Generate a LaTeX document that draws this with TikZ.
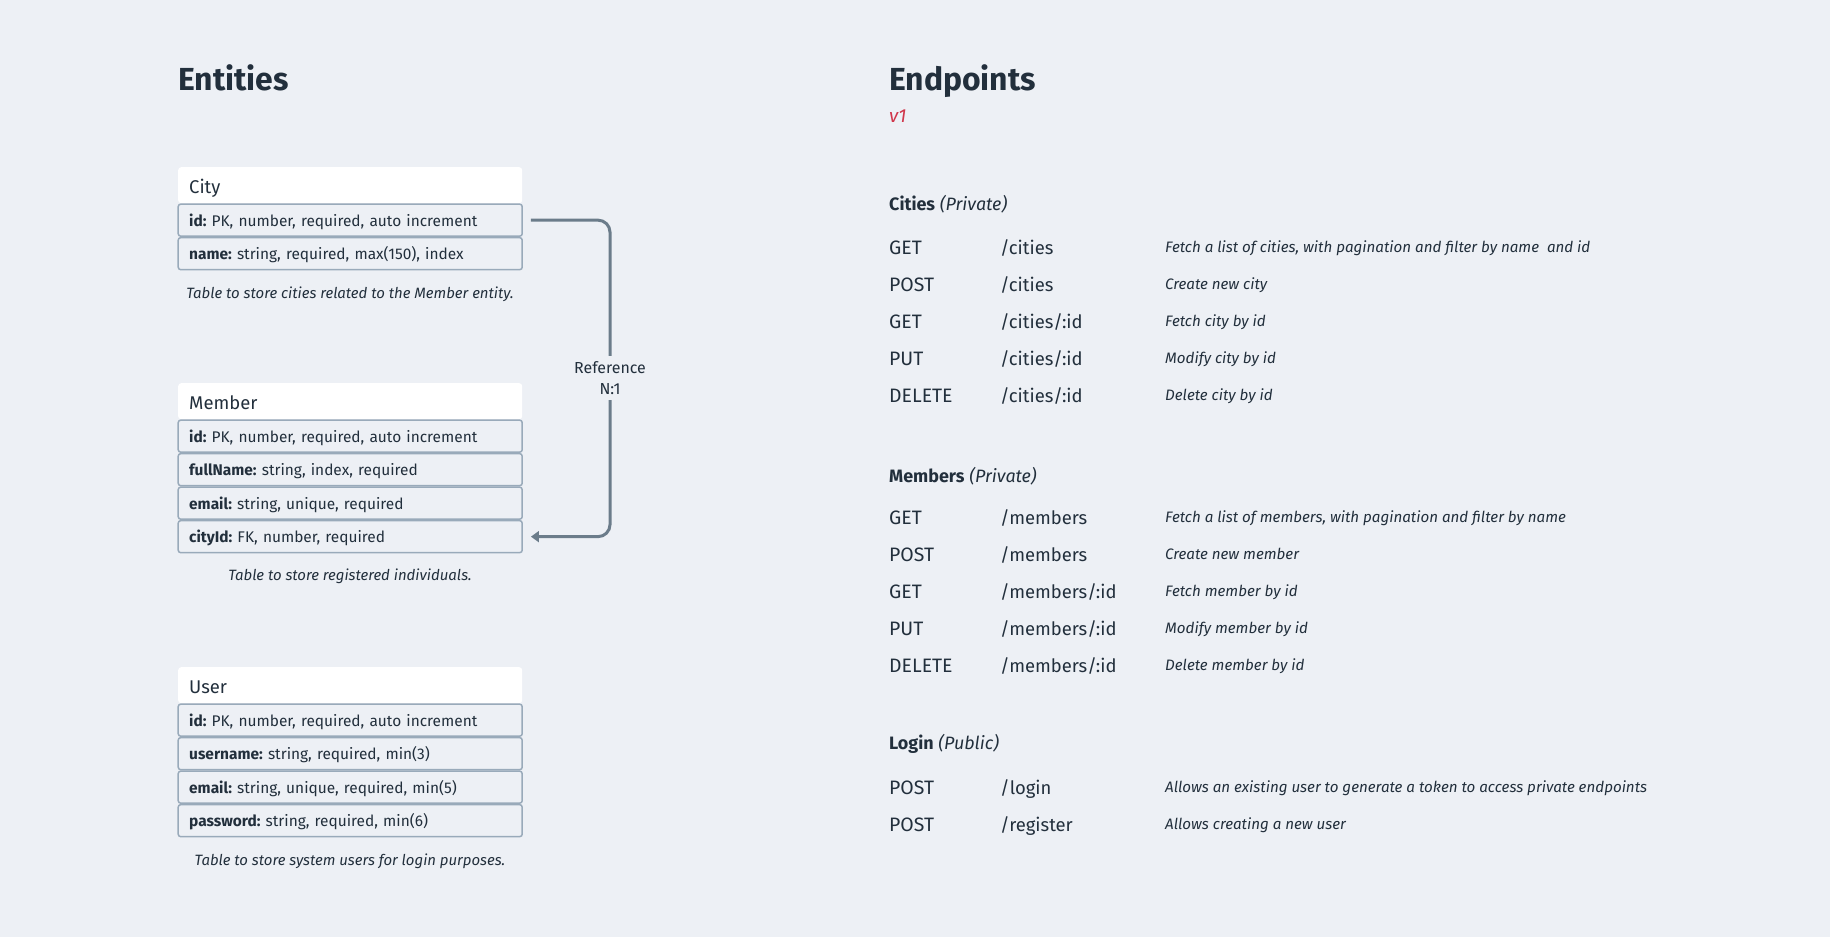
\documentclass[tikz,border=0pt]{standalone}
\usepackage{fontspec}
\setmainfont{Fira Sans}
\usetikzlibrary{positioning,arrows.meta}

\definecolor{bgcol}{HTML}{EDF0F5}
\definecolor{inkcol}{HTML}{222F3C}
\definecolor{rowline}{HTML}{99AABA}
\definecolor{linkcol}{HTML}{6B7C8A}
\definecolor{vercol}{HTML}{D0364B}

\newcommand{\titlefont}{\fontsize{32}{36}\selectfont\bfseries}
\newcommand{\headfont}{\fontsize{18.5}{21}\selectfont}
\newcommand{\rowfont}{\fontsize{15.5}{18}\selectfont}
\newcommand{\notefont}{\fontsize{15}{18}\selectfont\itshape}
\newcommand{\epfont}{\fontsize{18.5}{21}\selectfont}
\newcommand{\descfont}{\fontsize{15.2}{18}\selectfont\itshape}

\tikzset{
  title/.style={anchor=base west, inner sep=0bp, font=\titlefont},
  tablehead/.style={anchor=north west, fill=white, rounded corners=3bp,
    minimum height=36bp, text width=322bp, inner xsep=11bp, inner ysep=0bp,
    text height=16bp, text depth=0bp, align=left, font=\headfont},
  tablerow/.style={draw=rowline, line width=1.5bp, fill=bgcol, rounded corners=2.5bp,
    minimum height=32bp, text width=322bp, inner xsep=11bp, inner ysep=0bp,
    text height=12.5bp, text depth=0.5bp, align=left, font=\rowfont, below=0bp of #1},
  tablenote/.style={anchor=base, inner sep=0bp, font=\notefont},
  link/.style={draw=linkcol, line width=3bp, rounded corners=12bp,
    -{Triangle[length=8bp,width=11bp]}},
  linklabel/.style={fill=bgcol, align=center, inner xsep=4bp, inner ysep=5bp,
    font=\fontsize{16}{21.5}\selectfont},
  section/.style={anchor=base west, inner sep=0bp, font=\fontsize{18}{21}\selectfont},
  verb/.style={anchor=base west, inner sep=0bp, font=\fontsize{19.5}{22}\selectfont},
  route/.style={anchor=base west, inner sep=0bp, font=\epfont},
  what/.style={anchor=base west, inner sep=0bp, font=\descfont}
}

\begin{document}
\frenchspacing
\begin{tikzpicture}[x=1bp, y=-1bp, every node/.append style={text=inkcol}]

    % background and page size
    \fill[bgcol] (0, 0) rectangle (1830, 937);
    \useasboundingbox (0, 0) rectangle (1830, 937);

    % titles
    \node[title] (entities) at (178, 90) {Entities};
    \node[title] (endpoints) at (889, 90) {Endpoints};
    \node[title, font=\fontsize{19}{22}\selectfont\itshape, text=vercol] (version) at (889, 122) {v1};

    % table City
    \node[tablehead] (city) at (178, 167) {City};
    \node[tablerow=city] (city-id) {\textbf{id:} PK, number, required, auto increment};
    \node[tablerow=city-id] (city-name) {\textbf{name:} string, required, max(150), index};
    \node[tablenote] (city-note) at (350, 298) {Table to store cities related to the Member entity.};

    % table Member
    \node[tablehead] (member) at (178, 383) {Member};
    \node[tablerow=member] (member-id) {\textbf{id:} PK, number, required, auto increment};
    \node[tablerow=member-id] (member-fullname) {\textbf{fullName:} string, index, required};
    \node[tablerow=member-fullname] (member-email) {\textbf{email:} string, unique, required};
    \node[tablerow=member-email] (member-cityid) {\textbf{cityId:} FK, number, required};
    \node[tablenote] (member-note) at (350, 580) {Table to store registered individuals.};

    % table User
    \node[tablehead] (user) at (178, 667) {User};
    \node[tablerow=user] (user-id) {\textbf{id:} PK, number, required, auto increment};
    \node[tablerow=user-id] (user-username) {\textbf{username:} string, required, min(3)};
    \node[tablerow=user-username] (user-email) {\textbf{email:} string, unique, required, min(5)};
    \node[tablerow=user-email] (user-password) {\textbf{password:} string, required, min(6)};
    \node[tablenote] (user-note) at (350, 865) {Table to store system users for login purposes.};

    % reference City <- Member
    \coordinate (bend) at (610, 378);
    \draw[link] ([xshift=8bp]city-id.east) -| (bend) |- ([xshift=8bp]member-cityid.east);
    \node[linklabel] (ref) at (bend) {Reference\\N:1};

    % endpoints: cities
    \node[section] (cities) at (889, 210.5) {\textbf{Cities} \textit{(Private)}};
    \node[verb] (c1) at (889, 254) {GET};    \node[route] (c1r) at (1000, 254) {/cities};     \node[what] (c1w) at (1165, 252) {Fetch a list of cities, with pagination and filter by name\ \ and id};
    \node[verb] (c2) at (889, 291) {POST};   \node[route] (c2r) at (1000, 291) {/cities};     \node[what] (c2w) at (1165, 289) {Create new city};
    \node[verb] (c3) at (889, 328) {GET};    \node[route] (c3r) at (1000, 328) {/cities/:id}; \node[what] (c3w) at (1165, 326) {Fetch city by id};
    \node[verb] (c4) at (889, 365) {PUT};    \node[route] (c4r) at (1000, 365) {/cities/:id}; \node[what] (c4w) at (1165, 363) {Modify city by id};
    \node[verb] (c5) at (889, 402) {DELETE}; \node[route] (c5r) at (1000, 402) {/cities/:id}; \node[what] (c5w) at (1165, 400) {Delete city by id};

    % endpoints: members
    \node[section] (members) at (889, 482.5) {\textbf{Members} \textit{(Private)}};
    \node[verb] (m1) at (889, 524) {GET};    \node[route] (m1r) at (1000, 524) {/members};     \node[what] (m1w) at (1165, 522) {Fetch a list of members, with pagination and filter by name};
    \node[verb] (m2) at (889, 561) {POST};   \node[route] (m2r) at (1000, 561) {/members};     \node[what] (m2w) at (1165, 559) {Create new member};
    \node[verb] (m3) at (889, 598) {GET};    \node[route] (m3r) at (1000, 598) {/members/:id}; \node[what] (m3w) at (1165, 596) {Fetch member by id};
    \node[verb] (m4) at (889, 635) {PUT};    \node[route] (m4r) at (1000, 635) {/members/:id}; \node[what] (m4w) at (1165, 633) {Modify member by id};
    \node[verb] (m5) at (889, 672) {DELETE}; \node[route] (m5r) at (1000, 672) {/members/:id}; \node[what] (m5w) at (1165, 670) {Delete member by id};

    % endpoints: login
    \node[section] (login) at (889, 749) {\textbf{Login} \textit{(Public)}};
    \node[verb] (l1) at (889, 794) {POST}; \node[route] (l1r) at (1000, 794) {/login};    \node[what] (l1w) at (1165, 792) {Allows an existing user to generate a token to access private endpoints};
    \node[verb] (l2) at (889, 831) {POST}; \node[route] (l2r) at (1000, 831) {/register}; \node[what] (l2w) at (1165, 829) {Allows creating a new user};

\end{tikzpicture}
\end{document}
